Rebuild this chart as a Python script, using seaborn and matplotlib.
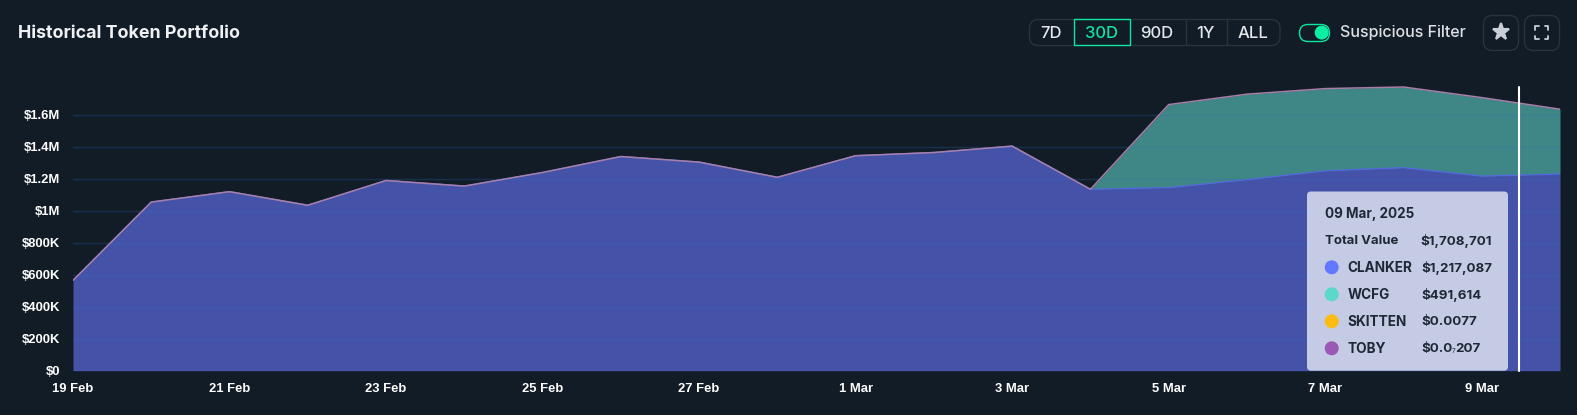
import pandas as pd
import matplotlib.pyplot as plt
from matplotlib.patches import FancyBboxPatch, Circle, Rectangle
from matplotlib.lines import Line2D
from matplotlib.ticker import FixedLocator, FixedFormatter
import seaborn as sns

# values, in dollars
dias = ['19 Feb', '20 Feb', '21 Feb', '22 Feb', '23 Feb', '24 Feb', '25 Feb', '26 Feb', '27 Feb', '28 Feb',
        '1 Mar', '2 Mar', '3 Mar', '4 Mar', '5 Mar', '6 Mar', '7 Mar', '8 Mar', '9 Mar', '10 Mar']
clanker = [565000, 1055000, 1120000, 1035000, 1190000, 1155000, 1240000, 1340000, 1305000, 1210000,
           1345000, 1365000, 1405000, 1135000, 1145000, 1195000, 1250000, 1270000, 1217087, 1230000]
wcfg = [0, 0, 0, 0, 0, 0, 0, 0, 0, 0,
        0, 0, 0, 0, 520000, 535000, 515000, 505000, 491614, 406000]
y_ticks = [0, 200000, 400000, 600000, 800000, 1000000, 1200000, 1400000, 1600000]
y_labels = ['$0', '$200K', '$400K', '$600K', '$800K', '$1M', '$1.2M', '$1.4M', '$1.6M']
botoes = ['7D', '30D', '90D', '1Y', 'ALL']
tooltip_nomes = ['CLANKER', 'WCFG', 'SKITTEN', 'TOBY']
tooltip_valores = ['$1,217,087', '$491,614', '$0.0077', None]
tooltip_cores = ['#6478FF', '#5AD8C8', '#FBBC14', '#9B59B6']

W, H = 1577, 415
BG = '#121C26'

sns.set_theme(style='dark', rc={'axes.facecolor': BG, 'figure.facecolor': BG})
plt.rcParams['font.family'] = ['Inter', 'DejaVu Sans']

df = pd.DataFrame({'dia': range(len(dias)), 'clanker': clanker, 'wcfg': wcfg})
df['total'] = df['clanker'] + df['wcfg']

fig = plt.figure(figsize=(W / 100, H / 100), dpi=100)
ax = fig.add_axes([73 / W, 1 - 370.7 / H, (1560 - 73) / W, (370.7 - 83) / H])

ax.fill_between(df['dia'], 0, df['clanker'], color='#4452A8', lw=0, zorder=1)
ax.fill_between(df['dia'], df['clanker'], df['total'], color='#3F8686', lw=0, zorder=1)
sns.lineplot(data=df, x='dia', y='clanker', color='#5468E0', lw=1.0, ax=ax, zorder=3)
sns.lineplot(data=df, x='dia', y='total', color='#A77FA8', lw=1.1, ax=ax, zorder=4)

ax.set_xlim(0, len(dias) - 1)
ax.set_ylim(0, 1800000)
ax.set_xlabel('')
ax.set_ylabel('')
ax.yaxis.set_major_locator(FixedLocator(y_ticks))
ax.yaxis.set_major_formatter(FixedFormatter(y_labels))
ax.xaxis.set_major_locator(FixedLocator(list(df['dia'][::2])))
ax.xaxis.set_major_formatter(FixedFormatter(dias[::2]))
ax.tick_params(axis='both', length=0, labelcolor='white')
ax.tick_params(axis='y', pad=9)
ax.tick_params(axis='x', pad=8.5)
for t in ax.get_xticklabels() + ax.get_yticklabels():
    t.set_family('Liberation Sans')
    t.set_fontweight('bold')
    t.set_fontsize(9.4)
for s in ax.spines.values():
    s.set_visible(False)
ax.grid(False)
for v in y_ticks[1:]:
    ax.axhline(v, color='#2F6FC4', alpha=0.25, lw=1, zorder=2)

# camada em pixels para o cabecalho e o tooltip
ov = fig.add_axes([0, 0, 1, 1], facecolor='none')
ov.set_xlim(0, W)
ov.set_ylim(H, 0)
ov.axis('off')

ov.text(18.5, 34, 'Historical Token Portfolio', color='#EEF0F3', fontsize=12.85, fontweight='bold', va='center')

# grupo de botoes
bx = [1051, 1101.7, 1157, 1205, 1253]
sep = [1185.7, 1226.7]
ov.add_patch(FancyBboxPatch((1029.5, 19.5), 250.5, 26, boxstyle='round,pad=0,rounding_size=9',
                            fc='none', ec='#2A323C', lw=1))
for i, b in enumerate(botoes):
    ativo = b == '30D'
    ov.text(bx[i], 33, b, color='#0EE5A0' if ativo else '#E4E7EB',
            fontsize=12, fontweight='medium', ha='center', va='center')
for x in sep:
    ov.add_line(Line2D([x, x], [19.5, 45.5], color='#2A323C', lw=1))
ov.add_patch(Rectangle((1073.5, 19.5), 56, 26, fc='none', ec='#0EE5A0', lw=1))

# toggle
ov.add_patch(FancyBboxPatch((1299.5, 24.5), 30, 17, boxstyle='round,pad=0,rounding_size=8.5',
                            fc='none', ec='#0EE5A0', lw=1))
ov.add_patch(Circle((1321.7, 32.6), 7, fc='#0CF0A4', ec='none'))
ov.text(1339.5, 33, 'Suspicious Filter', color='#DDE1E6', fontsize=11.5, fontweight='medium', va='center')

# botoes de icone
for x0 in (1483.5, 1524.5):
    ov.add_patch(FancyBboxPatch((x0, 15.5), 35, 35, boxstyle='round,pad=0,rounding_size=9',
                                fc='none', ec='#2A323C', lw=1))
ov.plot([1501.3], [32.5], marker='*', ms=12.5, color='#C9CED6', mec='#C9CED6', mew=1.5)
for sx, sy in ((-1, -1), (1, -1), (-1, 1), (1, 1)):
    cx, cy = 1541.7 + sx * 6.5, 32.8 + sy * 6.5
    ov.add_line(Line2D([cx - sx * 3.5, cx, cx], [cy, cy, cy - sy * 3.5], color='#C9CED6', lw=1.3))

# tooltip
ov.add_patch(FancyBboxPatch((1307, 191.5), 201, 179.2, boxstyle='round,pad=0,rounding_size=4',
                            fc='#C5CBE5', ec='none', zorder=4))
ov.add_line(Line2D([1519, 1519], [87, 370.7], color='white', lw=1.5, zorder=7))
TXT = '#1E2836'
ov.text(1325, 213.5, '09 Mar, 2025', color=TXT, fontsize=9.7, fontweight='bold', va='center', zorder=6)
ov.text(1325, 240.5, 'Total Value', color=TXT, fontsize=9.5, fontweight='bold', va='center', zorder=6)
ov.text(1420, 240.5, '$1,708,701', color=TXT, fontsize=9.6, fontweight='bold', va='center', zorder=6)
for i, nome in enumerate(tooltip_nomes):
    yy = 267.3 + i * 27
    ov.add_patch(Circle((1331.7, yy), 7, fc=tooltip_cores[i], ec='none', zorder=6))
    ov.text(1347.3, yy + 0.4, nome, color=TXT, fontsize=9.8, fontweight='bold', va='center', zorder=6)
    if tooltip_valores[i]:
        ov.text(1421.3, yy + 0.4, tooltip_valores[i], color=TXT, fontsize=9.6, fontweight='bold',
                va='center', zorder=6)
ov.text(1421.3, 348.7, '$0.0', color=TXT, fontsize=9.6, fontweight='bold', va='center', zorder=6)
ov.text(1452, 350.5, '7', color=TXT, fontsize=4.5, va='center', zorder=6)
ov.text(1455.7, 348.7, '207', color=TXT, fontsize=9.6, fontweight='bold', va='center', zorder=6)

fig.savefig('out.png', dpi=100, facecolor=BG)
plt.close()
